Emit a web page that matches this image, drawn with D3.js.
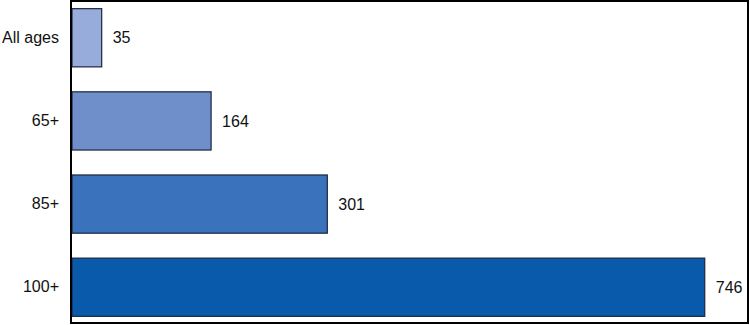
<!DOCTYPE html>
<html>
<head>
<meta charset="utf-8">
<script src="https://cdn.jsdelivr.net/npm/d3@7"></script>
<style>
  html, body { margin: 0; padding: 0; background: #fff; }
  svg { display: block; }
  text { font-family: "Liberation Sans", Arial, Helvetica, sans-serif; font-size: 16px; fill: #111; }
</style>
</head>
<body>
<svg id="chart" width="750" height="325"></svg>
<script>
const categories = ["All ages", "65+", "85+", "100+"];
const values = [35, 164, 301, 746];
const barColors = ["#98acdb", "#6f8fcb", "#3a73bb", "#0a5aab"];

const W = 750, H = 325;
const plot = { left: 71, top: 1, right: 748, bottom: 323 };

const svg = d3.select("#chart");

const x = d3.scaleLinear().domain([0, 797]).range([plot.left + 1, plot.right]);
const y = d3.scaleBand().domain(categories).range([plot.top + 1, plot.bottom]).paddingInner(0.3).paddingOuter(0.08);

svg.selectAll("rect.bar")
  .data(values)
  .join("rect")
  .attr("class", "bar")
  .attr("x", x(0))
  .attr("y", (d, i) => y(categories[i]))
  .attr("width", d => x(d) - x(0))
  .attr("height", y.bandwidth())
  .attr("fill", (d, i) => barColors[i])
  .attr("stroke", "#1b2540")
  .attr("stroke-width", 1.2);

svg.selectAll("text.val")
  .data(values)
  .join("text")
  .attr("class", "val")
  .attr("x", d => x(d) + 11)
  .attr("y", (d, i) => y(categories[i]) + y.bandwidth() / 2)
  .attr("dy", "0.35em")
  .text(d => d);

const yAxis = d3.axisLeft(y).tickSize(0).tickPadding(12);
const gy = svg.append("g").attr("transform", `translate(${plot.left},0)`).call(yAxis);
gy.select(".domain").remove();
gy.selectAll("text").style("font-size", "16px").attr("fill", "#111")
  .style("font-family", '"Liberation Sans", Arial, sans-serif');

svg.append("rect")
  .attr("x", plot.left)
  .attr("y", plot.top)
  .attr("width", plot.right - plot.left)
  .attr("height", plot.bottom - plot.top)
  .attr("fill", "none")
  .attr("stroke", "#000")
  .attr("stroke-width", 2);
</script>
</body>
</html>
